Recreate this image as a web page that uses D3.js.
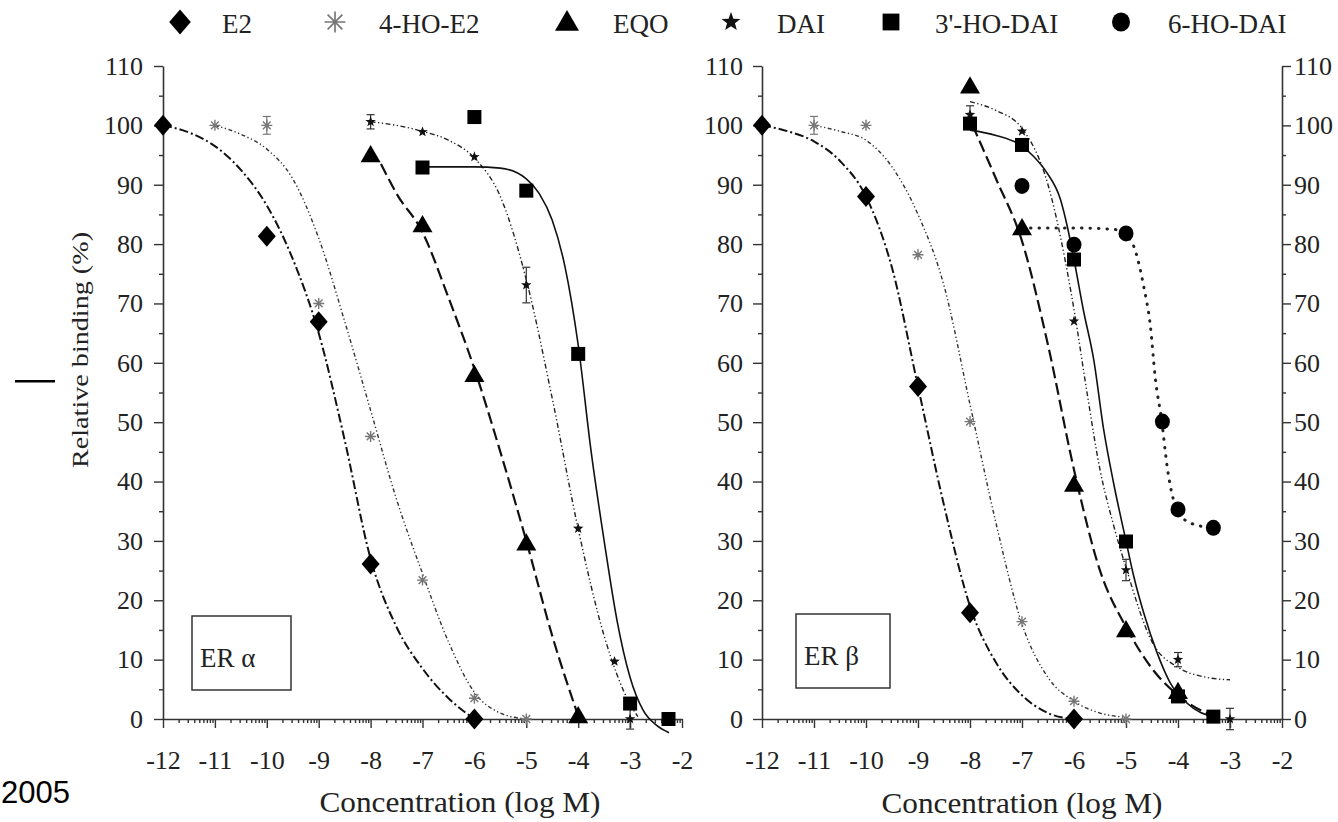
<!DOCTYPE html>
<html><head><meta charset="utf-8">
<script src="https://cdn.jsdelivr.net/npm/d3@7"></script>
<style>
body{margin:0;background:#fff;}
svg{display:block;font-family:"Liberation Serif","Times New Roman",serif;}
</style></head><body>
<svg id="chart" width="1338" height="822"></svg>
<script>
// ---------------- categories / labels ----------------
const seriesNames = ["E2", "4-HO-E2", "EQO", "DAI", "3'-HO-DAI", "6-HO-DAI"];
const panelLabels = ["ER \u03b1", "ER \u03b2"];
const xTickValues = [-12, -11, -10, -9, -8, -7, -6, -5, -4, -3, -2];
const yTickValues = [0, 10, 20, 30, 40, 50, 60, 70, 80, 90, 100, 110];
const yMinorValues = [5, 15, 25, 35, 45, 55, 65, 75, 85, 95, 105];
const xLabelText = "Concentration (log M)";
const yLabelText = "Relative binding (%)";
const yearText = "2005";

// ---------------- ER alpha : measured points ----------------
const aE2X = [-12, -10, -9, -8, -6];
const aE2Y = [100, 81.3, 66.9, 26.1, 0];
const aHOE2X = [-11, -10, -9, -8, -7, -6, -5];
const aHOE2Y = [100, 100, 70, 47.6, 23.4, 3.5, 0];
const aHOE2Err = [0, 1.5, 0, 0, 0, 0, 0];
const aEQOX = [-8, -7, -6, -5, -4];
const aEQOY = [95, 83.2, 58, 29.6, 0.5];
const aDAIX = [-8, -7, -6, -5, -4, -3.3, -3];
const aDAIY = [100.6, 98.9, 94.7, 73.1, 32.1, 9.7, 0];
const aDAIErr = [1.2, 0, 0, 3, 0, 0, 1.7];
const aHODAIX = [-7, -6, -5, -4, -3, -2.26];
const aHODAIY = [92.9, 101.4, 89, 61.5, 2.6, 0];

// ---------------- ER alpha : fitted curves ----------------
const aE2CurveX = [-12, -11.5, -11, -10.5, -10, -9.5, -9, -8.5, -8, -7.5, -7, -6.5, -6];
const aE2CurveY = [100, 98.8, 96.5, 92.5, 86.5, 77.5, 65, 47, 27, 15.5, 8.5, 3.5, 0];
const aHOE2CurveX = [-11, -10.5, -10, -9.5, -9, -8.5, -8, -7.5, -7, -6.5, -6, -5.5, -5];
const aHOE2CurveY = [100, 98.5, 96, 91, 81, 67, 52, 37, 24.5, 13, 4.5, 1, 0];
const aEQOCurveX = [-7.8, -7.5, -7, -6.5, -6, -5.5, -5, -4.5, -4];
const aEQOCurveY = [93.5, 88.5, 82, 71, 59, 45, 30, 14, 0.5];
const aDAICurveX = [-8, -7.5, -7, -6.5, -6, -5.5, -5, -4.5, -4, -3.5, -3, -2.85];
const aDAICurveY = [100.6, 100, 99, 97.5, 94.5, 88, 74, 54, 32, 14, 2.5, 0.4];
const aHODAICurveX = [-7, -6, -5.5, -5, -4.75, -4.5, -4.25, -4, -3.75, -3.5, -3.25, -3, -2.75, -2.5, -2.25];
const aHODAICurveY = [93, 93, 92.8, 91, 88.5, 84, 76, 63, 45, 30, 16.5, 7, 1.5, -1, -2.3];

// ---------------- ER beta : measured points ----------------
const bE2X = [-12, -10, -9, -8, -6];
const bE2Y = [100, 88, 56, 17.9, 0];
const bHOE2X = [-11, -10, -9, -8, -7, -6, -5];
const bHOE2Y = [100, 100, 78.2, 50.1, 16.4, 3, 0];
const bHOE2Err = [1.5, 0, 0, 0, 0, 0, 0];
const bEQOX = [-8, -7, -6, -5, -4];
const bEQOY = [106.6, 82.7, 39.5, 15, 4.6];
const bDAIX = [-8, -7, -6, -5, -4, -3];
const bDAIY = [101.8, 99, 67, 25.1, 10, 0];
const bDAIErr = [1.5, 0, 0, 1.8, 1.2, 1.8];
const bHODAIX = [-8, -7, -6, -5, -4, -3.32];
const bHODAIY = [100.3, 96.7, 77.4, 29.9, 3.8, 0.4];
const b6HODAIX = [-7, -6, -5, -4.3, -4, -3.32];
const b6HODAIY = [89.8, 79.9, 81.8, 50.1, 35.3, 32.2];

// ---------------- ER beta : fitted curves ----------------
const bE2CurveX = [-12, -11.5, -11, -10.5, -10, -9.5, -9, -8.5, -8, -7.5, -7, -6.5, -6];
const bE2CurveY = [100, 99, 97.3, 94, 88, 76, 56, 36, 19, 9.5, 4, 1, 0];
const bHOE2CurveX = [-11, -10.5, -10, -9.5, -9, -8.5, -8, -7.5, -7, -6.5, -6, -5.5, -5];
const bHOE2CurveY = [100, 99, 97.5, 93, 85, 73, 53, 33, 16, 7, 3, 1, 0.3];
const bEQOCurveX = [-7.95, -7.5, -7, -6.5, -6, -5.5, -5, -4.5, -4, -3.5, -3.3];
const bEQOCurveY = [100, 91, 80.5, 63, 42, 25, 15.5, 8.5, 4, 1.2, 0.5];
const bDAICurveX = [-8, -7.5, -7, -6.5, -6, -5.75, -5.5, -5.25, -5, -4.5, -4, -3.5, -3];
const bDAICurveY = [104, 102.5, 99.5, 90, 69, 55, 42, 33, 25.5, 13, 8.7, 7.1, 6.6];
const bHODAICurveX = [-8, -7.5, -7, -6.78, -6.52, -6.26, -6.13, -6, -5.82, -5.62, -5.43, -5.24, -5, -4.85, -4.66, -4.4, -4.15, -3.83, -3.32];
const bHODAICurveY = [99.2, 98.3, 96.5, 94.8, 92, 87.5, 83, 77.4, 68.9, 60.5, 48.8, 39.8, 30, 24, 17.9, 11.1, 6.1, 2.7, 0.3];
const b6HODAICurveX = [-7, -6, -5.25, -5, -4.85, -4.66, -4.53, -4.44, -4.31, -4.21, -4.02, -3.76, -3.32];
const b6HODAICurveY = [82.7, 82.7, 82.5, 81.5, 79.6, 72.9, 66.1, 57.7, 50, 42.6, 35.3, 33, 32.2];

// ---------------- assemble ----------------
function pts(xs, ys, errs) { return xs.map((x, i) => ({x, y: ys[i], e: errs ? errs[i] : 0})); }
const panels = [
  { label: panelLabels[0], series: [
    {name: seriesNames[0], points: pts(aE2X, aE2Y), curve: pts(aE2CurveX, aE2CurveY)},
    {name: seriesNames[1], points: pts(aHOE2X, aHOE2Y, aHOE2Err), curve: pts(aHOE2CurveX, aHOE2CurveY)},
    {name: seriesNames[2], points: pts(aEQOX, aEQOY), curve: pts(aEQOCurveX, aEQOCurveY)},
    {name: seriesNames[3], points: pts(aDAIX, aDAIY, aDAIErr), curve: pts(aDAICurveX, aDAICurveY)},
    {name: seriesNames[4], points: pts(aHODAIX, aHODAIY), curve: pts(aHODAICurveX, aHODAICurveY)}
  ]},
  { label: panelLabels[1], series: [
    {name: seriesNames[0], points: pts(bE2X, bE2Y), curve: pts(bE2CurveX, bE2CurveY)},
    {name: seriesNames[1], points: pts(bHOE2X, bHOE2Y, bHOE2Err), curve: pts(bHOE2CurveX, bHOE2CurveY)},
    {name: seriesNames[2], points: pts(bEQOX, bEQOY), curve: pts(bEQOCurveX, bEQOCurveY)},
    {name: seriesNames[3], points: pts(bDAIX, bDAIY, bDAIErr), curve: pts(bDAICurveX, bDAICurveY)},
    {name: seriesNames[4], points: pts(bHODAIX, bHODAIY), curve: pts(bHODAICurveX, bHODAICurveY)},
    {name: seriesNames[5], points: pts(b6HODAIX, b6HODAIY), curve: pts(b6HODAICurveX, b6HODAICurveY)}
  ]}
];

// ---------------- styles ----------------
const lineStyle = {
  "E2":        {dash: "9,3,2,3", w: 2, c: "#111"},
  "4-HO-E2":   {dash: "4,2.5,1.3,2.5,1.3,2.5", w: 1.4, c: "#333"},
  "EQO":       {dash: "12,5", w: 2.2, c: "#111"},
  "DAI":       {dash: "5,2.5,1.3,2.5,1.3,2.5", w: 1.4, c: "#222"},
  "3'-HO-DAI": {dash: null, w: 1.6, c: "#111"},
  "6-HO-DAI":  {dash: "0.5,8", w: 3, c: "#222", cap: "round"}
};

function starPath(R) {
  const r = R * 0.42; let p = "";
  for (let i = 0; i < 10; i++) {
    const a = -Math.PI / 2 + i * Math.PI / 5, rr = i % 2 ? r : R;
    p += (i ? "L" : "M") + (rr * Math.cos(a)).toFixed(2) + "," + (rr * Math.sin(a)).toFixed(2);
  }
  return p + "Z";
}
function asteriskPath(R) {
  const d = R * 0.7071;
  return `M0,${-R}V${R}M${-R},0H${R}M${-d},${-d}L${d},${d}M${-d},${d}L${d},${-d}`;
}
function drawMarker(g, name, cx, cy, k) {
  const t = g.append("g").attr("transform", `translate(${cx},${cy})`);
  if (name === "E2") {
    const w = 18 * k, h = 21 * k;
    t.append("path").attr("d", `M0,${-h/2}L${w/2},0L0,${h/2}L${-w/2},0Z`).attr("fill", "#000");
  } else if (name === "4-HO-E2") {
    t.append("path").attr("d", asteriskPath(5.5 * k)).attr("stroke", "#777").attr("stroke-width", 1.4 * Math.min(k, 1.2)).attr("fill", "none");
  } else if (name === "EQO") {
    const s = 20 * k, h = s * 0.866;
    t.append("path").attr("d", `M0,${-h*0.58}L${s/2},${h*0.42}L${-s/2},${h*0.42}Z`).attr("fill", "#000");
  } else if (name === "DAI") {
    t.append("path").attr("d", starPath(5.5 * k)).attr("fill", "#111");
  } else if (name === "3'-HO-DAI") {
    const s = 14 * k;
    t.append("rect").attr("x", -s/2).attr("y", -s/2).attr("width", s).attr("height", s).attr("fill", "#000");
  } else if (name === "6-HO-DAI") {
    t.append("ellipse").attr("rx", 7.5 * k).attr("ry", 8 * k).attr("fill", "#000");
  }
}

// ---------------- drawing ----------------
const svg = d3.select("#chart");
const y = d3.scaleLinear().domain([0, 110]).range([719, 66]);
const xRanges = [[163, 682], [762, 1282]];
const xMinor = [];
xTickValues.slice(0, -1).forEach(d => [2,3,4,5,6,7,8,9].forEach(k => xMinor.push(d + Math.log10(k))));

function styleAxis(sel, fs) {
  sel.attr("font-family", null).attr("font-size", null);
  sel.selectAll("path.domain").attr("stroke", "#333").attr("stroke-width", 1.6);
  sel.selectAll(".tick line").attr("stroke", "#333").attr("stroke-width", 1.4);
  sel.selectAll("text").attr("fill", "#222").style("font-size", fs + "px")
     .style("font-family", '"Liberation Serif","Times New Roman",serif');
}

panels.forEach((panel, pi) => {
  const x = d3.scaleLinear().domain([-12, -2]).range(xRanges[pi]);
  const g = svg.append("g");

  // axes
  const ax = g.append("g").attr("transform", `translate(0,${y(0)})`)
    .call(d3.axisBottom(x).tickValues(xTickValues).tickSize(9).tickSizeOuter(0).tickPadding(23).tickFormat(d => String(d)));
  styleAxis(ax, 26);
  const axm = g.append("g").attr("transform", `translate(0,${y(0)})`)
    .call(d3.axisBottom(x).tickValues(xMinor).tickSize(4).tickSizeOuter(0).tickFormat(""));
  styleAxis(axm, 26); axm.select("path.domain").remove();

  const ay = g.append("g").attr("transform", `translate(${xRanges[pi][0]},0)`)
    .call(d3.axisLeft(y).tickValues(yTickValues).tickSize(9).tickSizeOuter(0).tickPadding(pi ? 10 : 11));
  styleAxis(ay, 26);
  const aym = g.append("g").attr("transform", `translate(${xRanges[pi][0]},0)`)
    .call(d3.axisLeft(y).tickValues(yMinorValues).tickSize(4).tickSizeOuter(0).tickFormat(""));
  styleAxis(aym, 26); aym.select("path.domain").remove();

  if (pi === 1) {
    const ar = g.append("g").attr("transform", `translate(${xRanges[pi][1]},0)`)
      .call(d3.axisRight(y).tickValues(yTickValues).tickSize(9).tickSizeOuter(0).tickPadding(3));
    styleAxis(ar, 26);
    const arm = g.append("g").attr("transform", `translate(${xRanges[pi][1]},0)`)
      .call(d3.axisRight(y).tickValues(yMinorValues).tickSize(4).tickSizeOuter(0).tickFormat(""));
    styleAxis(arm, 26); arm.select("path.domain").remove();
  }

  // x label
  g.append("text").attr("x", pi ? 1022 : 460).attr("y", pi ? 813 : 812).attr("text-anchor", "middle")
    .attr("font-size", 30).attr("fill", "#222").attr("textLength", 281).attr("lengthAdjust", "spacingAndGlyphs")
    .text(xLabelText);

  // curves
  const line = d3.line().x(d => x(d.x)).y(d => y(d.y)).curve(d3.curveMonotoneX);
  panel.series.forEach(s => {
    const st = lineStyle[s.name];
    g.append("path").attr("d", line(s.curve)).attr("fill", "none").attr("stroke", st.c)
      .attr("stroke-width", st.w).attr("stroke-dasharray", st.dash)
      .attr("stroke-linecap", st.cap || "butt");
  });

  // error bars + markers
  panel.series.forEach(s => {
    s.points.forEach(p => {
      if (p.e > 0) {
        const col = s.name === "4-HO-E2" ? "#777" : "#333";
        const cx = x(p.x);
        g.append("line").attr("x1", cx).attr("x2", cx).attr("y1", y(p.y - p.e)).attr("y2", y(p.y + p.e)).attr("stroke", col).attr("stroke-width", 1.2);
        [p.y - p.e, p.y + p.e].forEach(v => g.append("line").attr("x1", cx - 4).attr("x2", cx + 4).attr("y1", y(v)).attr("y2", y(v)).attr("stroke", col).attr("stroke-width", 1.2));
      }
    });
  });
  panel.series.forEach(s => s.points.forEach(p => drawMarker(g, s.name, x(p.x), y(p.y), 1)));

  // inset label box
  const bx = pi ? 796 : 192, by = pi ? 614 : 616;
  g.append("rect").attr("x", bx).attr("y", by).attr("width", pi ? 94 : 99).attr("height", 74)
    .attr("fill", "#fff").attr("stroke", "#333").attr("stroke-width", 1.5);
  g.append("text").attr("x", bx + 8).attr("y", by + 51).attr("font-size", 27).attr("fill", "#222").text(panel.label);
});

// y label
svg.append("text").attr("transform", "translate(88,350) rotate(-90)").attr("text-anchor", "middle")
  .attr("font-size", 24).attr("fill", "#222").attr("textLength", 236).attr("lengthAdjust", "spacingAndGlyphs")
  .text(yLabelText);

// legend
const legendMarkX = [180, 335, 567, 731, 891, 1121];
const legendTextX = [222, 379, 613, 777, 935, 1168];
const lg = svg.append("g");
seriesNames.forEach((n, i) => {
  drawMarker(lg, n, legendMarkX[i], 22, n === "4-HO-E2" ? 1.9 : (n === "DAI" ? 1.8 : 1.2));
  lg.append("text").attr("x", legendTextX[i]).attr("y", 33).attr("font-size", 27).attr("fill", "#222").text(n);
});

// stray marks in the reference image
svg.append("rect").attr("x", 15).attr("y", 380).attr("width", 40).attr("height", 2.5).attr("fill", "#000");
svg.append("text").attr("x", 1).attr("y", 803).attr("font-size", 31).attr("fill", "#000")
  .style("font-family", '"Liberation Sans",Arial,sans-serif').text(yearText);
</script>
</body></html>
